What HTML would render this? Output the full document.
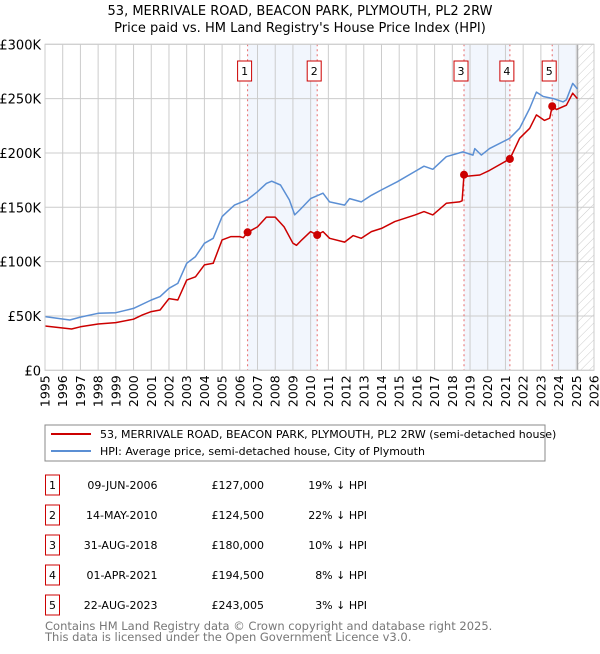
<!DOCTYPE html>
<html><head><meta charset="utf-8"><style>
body{margin:0;background:#fff;font-family:"DejaVu Sans","Liberation Sans",sans-serif;}
svg text{font-family:"DejaVu Sans","Liberation Sans",sans-serif;}
</style></head><body>
<svg id="c" width="600" height="650" xmlns="http://www.w3.org/2000/svg">
<defs><pattern id="hatch" width="6" height="6" patternUnits="userSpaceOnUse" patternTransform="rotate(45)"><line x1="0" y1="0" x2="0" y2="6" stroke="#ccc" stroke-width="1"/></pattern></defs>
<text x="300" y="15" text-anchor="middle" font-size="13">53, MERRIVALE ROAD, BEACON PARK, PLYMOUTH, PL2 2RW</text>
<text x="300" y="32" text-anchor="middle" font-size="13">Price paid vs. HM Land Registry's House Price Index (HPI)</text>
<g id="plot"></g>
<g id="legend">
<rect x="45" y="425" width="500" height="36" fill="#fff" stroke="#888"/>
<line x1="51" y1="434" x2="91" y2="434" stroke="#cc0000" stroke-width="2"/>
<text x="100" y="438" font-size="11">53, MERRIVALE ROAD, BEACON PARK, PLYMOUTH, PL2 2RW (semi-detached house)</text>
<line x1="51" y1="451" x2="91" y2="451" stroke="#5b8fd4" stroke-width="2"/>
<text x="100" y="455" font-size="11">HPI: Average price, semi-detached house, City of Plymouth</text>
</g>
<g id="table"></g>
<text x="45" y="630" font-size="11.5" fill="#777">Contains HM Land Registry data © Crown copyright and database right 2025.</text>
<text x="45" y="641" font-size="11.5" fill="#777">This data is licensed under the Open Government Licence v3.0.</text>
</svg>
<script>
const hpiYears=[1995,1996.4,1997,1998,1999,2000,2001,2001.5,2002,2002.5,2003,2003.5,2004,2004.5,2005,2005.3,2005.7,2006.4,2007,2007.5,2007.8,2008.3,2008.8,2009.1,2009.38,2010,2010.7,2011.07,2011.92,2012.2,2012.86,2013.43,2014,2014.9,2015.9,2016.4,2016.9,2017.66,2018.6,2019.17,2019.27,2019.64,2020.1,2021.24,2021.8,2022.37,2022.75,2023.13,2023.7,2024.26,2024.44,2024.8,2025.06];
const hpiValues=[49.4,46.3,49,52.5,53,57,64.7,67.8,75.5,80,98.5,104.6,116.9,121.5,141.4,146,152,156.7,164.4,172,174,170.5,156.7,143,147.5,158,163,155,152,158,155,161,166,173.6,183,187.8,185,196.6,201,198,204,198,204,213.5,222.7,241,256,252,250,247,249,264,259];
const priceYears=[1995,1996.5,1997,1998,1999,2000,2000.5,2001,2001.5,2002,2002.5,2003,2003.5,2004,2004.5,2005,2005.5,2006,2006.2,2006.44,2007,2007.5,2008,2008.5,2009,2009.2,2009.5,2010,2010.37,2010.7,2011.07,2011.92,2012.4,2012.86,2013.43,2014,2014.75,2015.9,2016.4,2016.9,2017.66,2018.4,2018.55,2018.66,2018.8,2019.55,2020.1,2021.25,2021.8,2022.37,2022.75,2023.2,2023.5,2023.64,2023.88,2024.44,2024.8,2025.06];
const priceValues=[40.8,38,40,42.6,43.9,47,51,54,55.5,66,64.7,83,86,97,98.5,120,123,123,122,127,132,141,141,132,117,115,120,127.6,124.5,127.6,121.5,118,124,121.5,127.6,130.6,136.8,143,146,143,153.7,155,156,180,178.5,179.7,184,194.5,213.5,222.7,235,230,232,243,240,244,255,250];
const saleLabels=["1","2","3","4","5"];
const saleYears=[2006.44,2010.37,2018.66,2021.25,2023.64];
const saleValues=[127,124.5,180,194.5,243.005];
const saleDates=["09-JUN-2006","14-MAY-2010","31-AUG-2018","01-APR-2021","22-AUG-2023"];
const salePrices=["£127,000","£124,500","£180,000","£194,500","£243,005"];
const salePcts=["19% ↓ HPI","22% ↓ HPI","10% ↓ HPI","8% ↓ HPI","3% ↓ HPI"];
const yTicks=[0,50,100,150,200,250,300];
const yTickLabels=["£0","£50K","£100K","£150K","£200K","£250K","£300K"];
const xTicks=[1995,1996,1997,1998,1999,2000,2001,2002,2003,2004,2005,2006,2007,2008,2009,2010,2011,2012,2013,2014,2015,2016,2017,2018,2019,2020,2021,2022,2023,2024,2025,2026];
const dataEnd=2025.08;

const L=45,R=594,T=44.3,B=370.3;
const X=y=>L+(y-1995)/(2026-1995)*(R-L);
const Y=v=>B-v/300*(B-T);
const NS="http://www.w3.org/2000/svg";
function mk(tag,attrs,parent,text){const e=document.createElementNS(NS,tag);for(const k in attrs)e.setAttribute(k,attrs[k]);if(text!==undefined)e.textContent=text;parent.appendChild(e);return e;}
const p=document.getElementById('plot');
[[0,1],[2,3]].forEach((pr,i)=>{const r=mk('rect',{x:X(saleYears[pr[0]]),y:T,width:X(saleYears[pr[1]])-X(saleYears[pr[0]]),height:B-T,fill:'#f2f6fd'},p);

});
const r5=mk('rect',{x:X(saleYears[4]),y:T,width:X(dataEnd)-X(saleYears[4]),height:B-T,fill:'#f2f6fd'},p);


const hz=mk('rect',{x:X(dataEnd),y:T,width:R-X(dataEnd),height:B-T,fill:'url(#hatch)'},p);


xTicks.forEach(t=>{const g=mk('line',{x1:X(t),x2:X(t),y1:T,y2:B,stroke:'#ccc','stroke-width':1},p);


const tx=mk('text',{x:0,y:0,'font-size':12.5,'text-anchor':'end',transform:`translate(${X(t)+4.5},${B+5}) rotate(-90)`},p,String(t));

});
yTicks.forEach((t,i)=>{const g=mk('line',{x1:L,x2:R,y1:Y(t),y2:Y(t),stroke:'#ccc','stroke-width':1},p);


const tx=mk('text',{x:L-4,y:Y(t)+5,'font-size':13,'text-anchor':'end'},p,yTickLabels[i]);

});
const el=mk('line',{x1:X(dataEnd),x2:X(dataEnd),y1:T,y2:B,stroke:'#999','stroke-width':1},p);


saleYears.forEach((s,i)=>{const v=mk('line',{x1:X(s),x2:X(s),y1:T,y2:B,stroke:'#e86a6a','stroke-width':1,'stroke-dasharray':'2,3'},p);


const b=mk('rect',{x:X(s)-10,y:61,width:14,height:20,fill:'#fff',stroke:'#cc0000'},p);


const t=mk('text',{x:X(s)-3,y:75,'font-size':11,'text-anchor':'middle'},p,saleLabels[i]);

});
function line(xs,vs,col,name){const d=xs.map((x,i)=>(i?'L':'M')+X(x).toFixed(1)+','+Y(vs[i]).toFixed(1)).join('');
const e=mk('path',{d:d,fill:'none',stroke:col,'stroke-width':1.5,'stroke-linejoin':'round'},p);

}
line(hpiYears,hpiValues,'#5b8fd4','hpi-line');
line(priceYears,priceValues,'#cc0000','price-line');
saleYears.forEach((s,i)=>{const c=mk('circle',{cx:X(s),cy:Y(saleValues[i]),r:4,fill:'#cc0000'},p);

});
const fr=mk('rect',{x:L,y:T,width:R-L,height:B-T,fill:'none',stroke:'#ccc'},p);


const tb=document.getElementById('table');
saleLabels.forEach((lab,i)=>{const cy=485+i*30;
const b=mk('rect',{x:45.5,y:cy-10,width:14,height:20,fill:'#fff',stroke:'#cc0000'},tb);


const t=mk('text',{x:52.5,y:cy+4,'font-size':11,'text-anchor':'middle'},tb,lab);


const d=mk('text',{x:157.5,y:cy+4,'font-size':11,'text-anchor':'end'},tb,saleDates[i]);


const pr=mk('text',{x:264,y:cy+4,'font-size':11,'text-anchor':'end'},tb,salePrices[i]);


const pc=mk('text',{x:367,y:cy+4,'font-size':11,'text-anchor':'end'},tb,salePcts[i]);

});
</script>
</body></html>
